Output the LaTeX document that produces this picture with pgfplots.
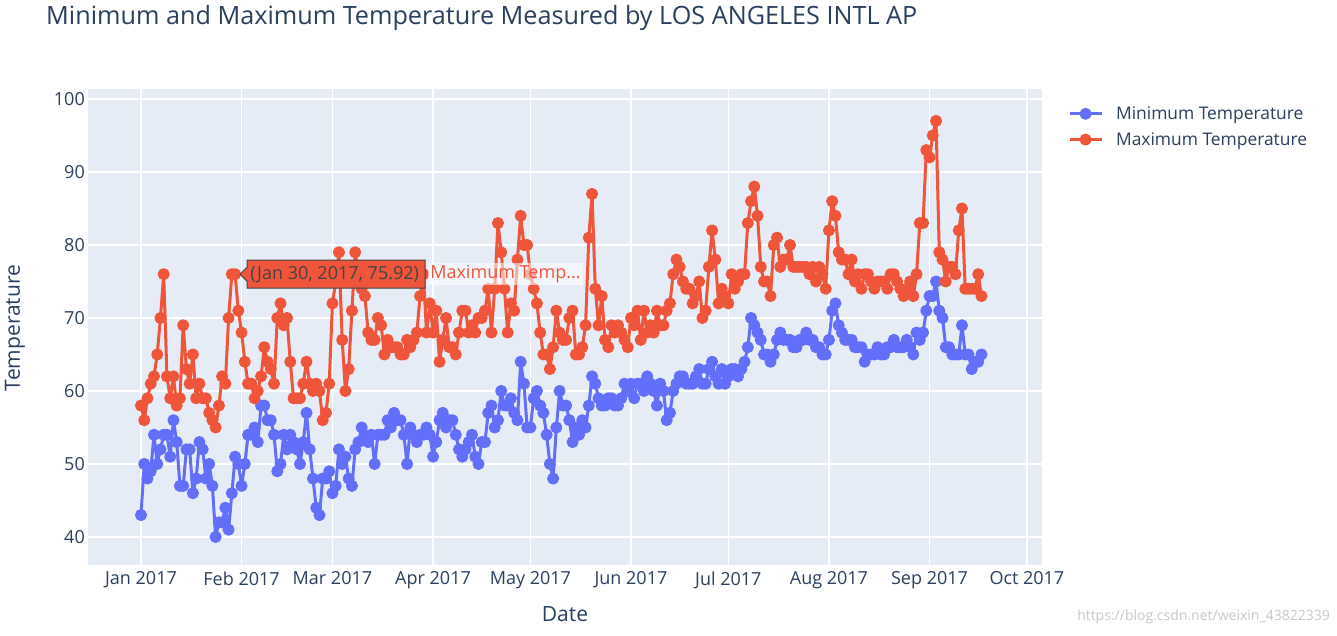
\documentclass[border=0pt]{standalone}
\usepackage{pgfplots}
\usepackage{pgfplotstable}
\pgfplotsset{compat=1.18}
\usepackage{fontspec}
\setmainfont{Open Sans}
\definecolor{plotbg}{HTML}{E5ECF6}
\definecolor{minblue}{HTML}{636EFA}
\definecolor{maxred}{HTML}{EF553B}
\definecolor{textcol}{HTML}{2A3F5F}
\definecolor{tipborder}{HTML}{444444}
\definecolor{tiptext}{HTML}{444444}
\definecolor{wmark}{HTML}{C8C8C8}
\newcommand\titlefont{\fontsize{25.2pt}{30pt}\selectfont}
\newcommand\tickfont{\fontsize{18pt}{21pt}\selectfont}
\newcommand\axtitlefont{\fontsize{21pt}{25pt}\selectfont}
\newcommand\legfont{\fontsize{17.4pt}{21pt}\selectfont}
\newcommand\hoverfont{\fontsize{18pt}{21pt}\selectfont}

% daily maximum temperature, 1 Jan 2017 onwards
\pgfplotstableread[header=false,row sep=\\]{
58\\56\\59\\61\\62\\65\\70\\76\\62\\59\\
62\\58\\59\\69\\63\\61\\65\\59\\61\\59\\
59\\57\\56\\55\\58\\62\\61\\70\\76\\76\\
71\\68\\64\\61\\61\\59\\60\\62\\66\\64\\
63\\61\\70\\72\\69\\70\\64\\59\\59\\59\\
61\\64\\61\\60\\61\\60\\56\\57\\61\\72\\
75\\79\\67\\60\\63\\71\\79\\76\\74\\73\\
68\\67\\67\\70\\69\\65\\67\\66\\66\\66\\
65\\65\\67\\66\\67\\68\\73\\76\\68\\72\\
68\\71\\64\\67\\70\\66\\66\\65\\68\\71\\
71\\68\\69\\68\\70\\70\\71\\74\\68\\74\\
83\\79\\74\\68\\72\\71\\78\\84\\80\\80\\
76\\74\\72\\68\\65\\65\\63\\66\\71\\68\\
67\\67\\70\\71\\65\\65\\66\\69\\81\\87\\
74\\69\\73\\67\\66\\69\\68\\69\\68\\67\\
66\\70\\69\\71\\67\\71\\68\\69\\68\\71\\
69\\69\\71\\72\\76\\78\\77\\75\\74\\74\\
72\\73\\75\\70\\71\\77\\82\\78\\72\\74\\
73\\72\\76\\74\\75\\76\\76\\83\\86\\88\\
84\\77\\75\\75\\73\\80\\81\\77\\78\\78\\
80\\77\\77\\77\\77\\77\\76\\77\\75\\77\\
76\\74\\82\\86\\84\\79\\78\\78\\76\\78\\
75\\76\\74\\76\\76\\75\\74\\75\\75\\75\\
74\\76\\76\\75\\74\\73\\74\\75\\73\\76\\
83\\83\\93\\92\\95\\97\\79\\78\\75\\77\\
77\\76\\82\\85\\74\\74\\74\\74\\76\\73\\
}\maxdata

% daily minimum temperature, 1 Jan 2017 onwards
\pgfplotstableread[header=false,row sep=\\]{
43\\50\\48\\49\\54\\50\\52\\54\\54\\51\\
56\\53\\47\\47\\52\\52\\46\\48\\53\\52\\
48\\50\\47\\40\\42\\42\\44\\41\\46\\51\\
50\\47\\50\\54\\54\\55\\53\\58\\58\\56\\
56\\54\\49\\50\\54\\52\\54\\53\\52\\50\\
53\\57\\52\\48\\44\\43\\48\\48\\49\\46\\
47\\52\\50\\51\\48\\47\\52\\53\\55\\54\\
53\\54\\50\\54\\54\\54\\56\\55\\57\\56\\
56\\54\\50\\55\\54\\53\\54\\54\\55\\54\\
51\\53\\56\\57\\55\\56\\56\\54\\52\\51\\
52\\53\\54\\51\\50\\53\\53\\57\\58\\55\\
56\\60\\58\\58\\59\\57\\56\\64\\61\\55\\
55\\59\\60\\58\\57\\54\\50\\48\\55\\60\\
58\\58\\56\\53\\55\\54\\56\\55\\58\\62\\
61\\59\\58\\58\\59\\59\\58\\58\\59\\61\\
60\\61\\59\\61\\61\\60\\62\\61\\60\\58\\
61\\60\\56\\57\\60\\61\\62\\62\\61\\61\\
61\\62\\63\\61\\61\\63\\64\\62\\61\\63\\
61\\62\\63\\63\\62\\63\\64\\66\\70\\69\\
68\\67\\65\\65\\64\\65\\67\\68\\67\\67\\
67\\66\\66\\67\\67\\68\\67\\67\\66\\66\\
65\\65\\67\\71\\72\\69\\68\\67\\67\\67\\
66\\66\\66\\64\\65\\65\\65\\66\\65\\65\\
66\\66\\67\\66\\66\\66\\67\\66\\65\\68\\
67\\68\\71\\73\\73\\75\\71\\70\\66\\66\\
65\\65\\65\\69\\65\\65\\63\\64\\64\\65\\
}\mindata

\begin{document}
\begin{tikzpicture}
\path[use as bounding box] (0pt,0pt) rectangle (1337pt,635pt);
\begin{axis}[
  at={(88pt,70pt)}, anchor=south west,
  scale only axis, width=954pt, height=476pt,
  xmin=-16.33, xmax=277.66, ymin=36.16, ymax=101.37,
  axis background/.style={fill=plotbg},
  axis line style={draw=none},
  tick style={draw=none},
  grid=major, major grid style={white, line width=1.5pt},
  xtick={0,31,59,90,120,151,181,212,243,273},
  xticklabels={Jan 2017,Feb 2017,Mar 2017,Apr 2017,May 2017,Jun 2017,Jul 2017,Aug 2017,Sep 2017,Oct 2017},
  ytick={40,50,60,70,80,90,100},
  /pgf/number format/assume math mode=true,
  ticklabel style={font=\tickfont, text=textcol},
  xticklabel style={inner sep=0pt, yshift=-6.5pt},
  yticklabel style={inner sep=0pt, xshift=-3pt},
  legend cell align=left,
  legend style={at={(1.0273,0.967)}, anchor=north west, draw=none, fill=none,
    inner sep=0pt, outer sep=0pt, row sep=7.5pt, column sep=11pt,
    font=\legfont, text=textcol},
  legend image code/.code={\draw[mark repeat=2,mark phase=2,#1] plot coordinates {(0pt,0pt)(16pt,0pt)(32pt,0pt)};},
  line join=round,
]
\addplot[color=minblue, line width=3pt, mark=*, mark size=4.5pt, mark options={solid, draw=none, fill=minblue}]
  table[x expr=\coordindex, y index=0] {\mindata};
\addlegendentry{Minimum Temperature}
\addplot[color=maxred, line width=3pt, mark=*, mark size=4.5pt, mark options={solid, draw=none, fill=maxred}]
  table[x expr=\coordindex, y index=0] {\maxdata};
\addlegendentry{Maximum Temperature}
\coordinate (tip) at (axis cs:29,76);
\end{axis}
% hover label, drawn above the plotted series
\draw[fill=maxred, draw=tipborder, line width=1pt]
  ([xshift=5pt]tip) -- ++(7pt,7pt) -- ++(0pt,7pt) -- ++(178pt,0pt)
  -- ++(0pt,-28pt) -- ++(-178pt,0pt) -- ++(0pt,7pt) -- cycle;
\node[anchor=west, inner sep=0pt, text=tiptext, font=\hoverfont] at ([xshift=15pt]tip) {(Jan 30, 2017, 75.92)};
\node[anchor=west, inner sep=2pt, fill=white, fill opacity=0.55, text opacity=1, text=maxred, font=\hoverfont] at ([xshift=193pt]tip) {Maximum Temp...};
\node[anchor=base west, inner sep=0pt, text=textcol, font=\titlefont] at (46pt,610pt) {Minimum and Maximum Temperature Measured by LOS ANGELES INTL AP};
\node[inner sep=0pt, text=textcol, font=\axtitlefont] at (565pt,21pt) {Date};
\node[inner sep=0pt, text=textcol, font=\axtitlefont, rotate=90] at (15pt,307pt) {Temperature};
\node[anchor=east, inner sep=0pt, text=wmark, font=\fontsize{14pt}{16pt}\selectfont] at (1330pt,18pt) {https://blog.csdn.net/weixin\_43822339};
\end{tikzpicture}
\end{document}
